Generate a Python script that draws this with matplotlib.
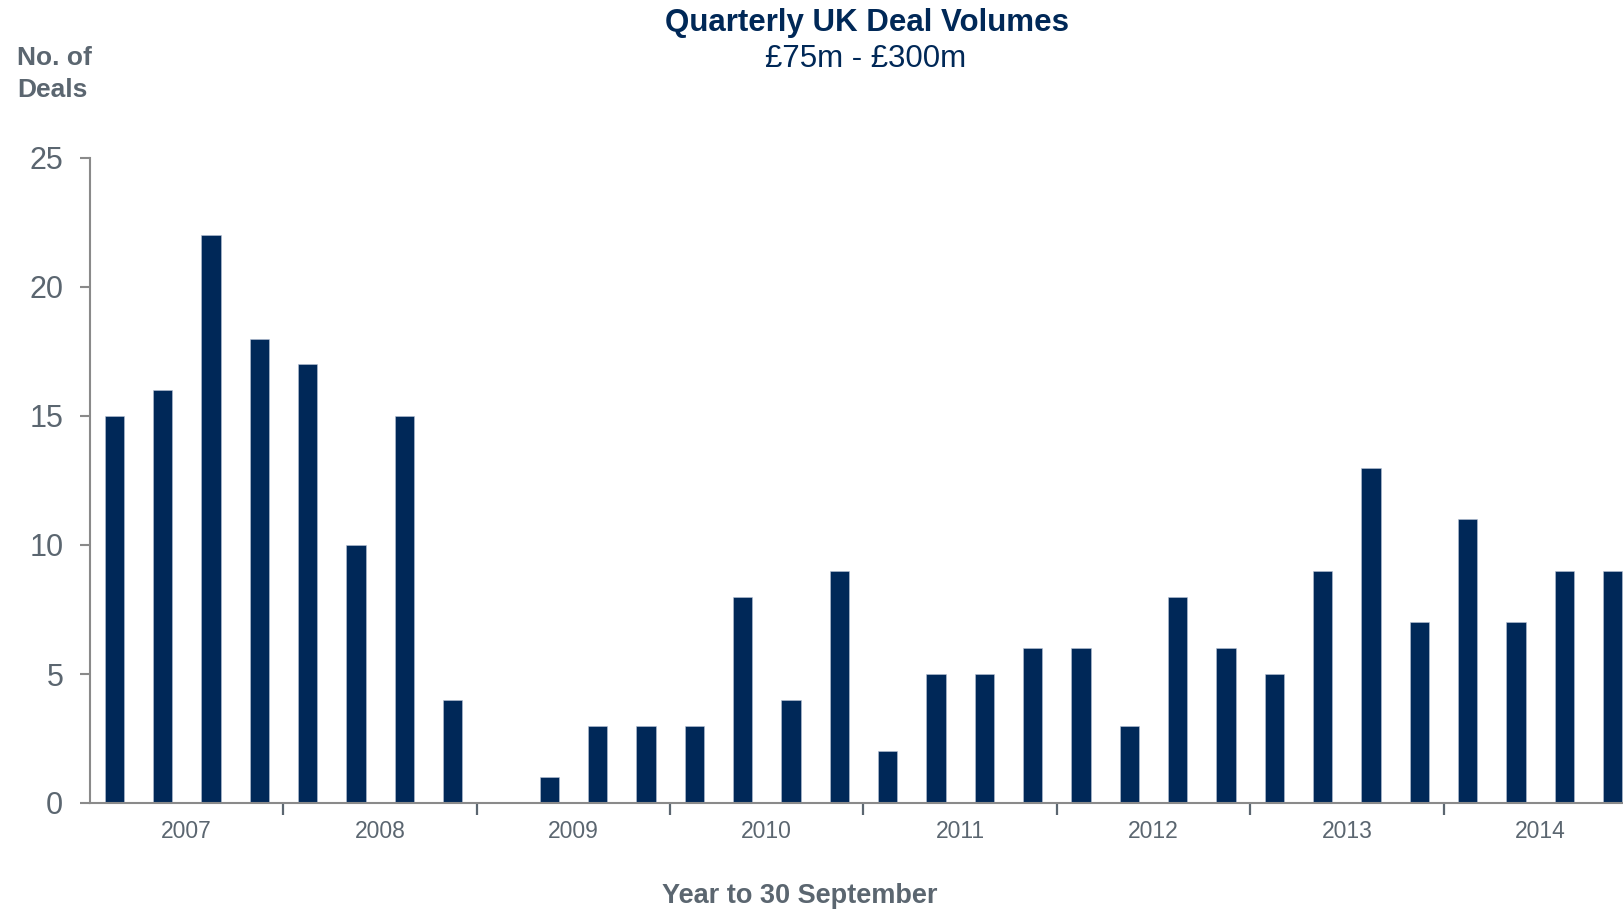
import matplotlib
matplotlib.use("Agg")
import matplotlib.pyplot as plt
from matplotlib.ticker import FixedLocator, NullFormatter, FixedFormatter

plt.rcParams['font.family'] = ['Liberation Sans', 'DejaVu Sans']

# Quarterly deal counts, four quarters per year (year to 30 September)
years = ['2007', '2008', '2009', '2010', '2011', '2012', '2013', '2014']
deals = [15, 16, 22, 18,
         17, 10, 15, 4,
         0, 1, 3, 3,
         3, 8, 4, 9,
         2, 5, 5, 6,
         6, 3, 8, 6,
         5, 9, 13, 7,
         11, 7, 9, 9]
y_ticks = [0, 5, 10, 15, 20, 25]

NAVY = '#002858'
GREY_TEXT = '#5b6670'
GREY_AXIS = '#8a8a8a'

W, H = 1624, 909
fig = plt.figure(figsize=(W / 100, H / 100), dpi=100)
fig.patch.set_facecolor('white')

left, bottom = 90 / W, 1 - 803 / H
width, height = 1547 / W, 645 / H
ax = fig.add_axes([left, bottom, width, height])

x = list(range(len(deals)))
ax.bar(x, deals, width=0.4, color=NAVY, edgecolor='#b8c2d6', linewidth=0.4, zorder=2)

ax.set_xlim(-0.5, len(deals) - 0.5)
ax.set_ylim(0, 25)

for side in ('top', 'right'):
    ax.spines[side].set_visible(False)
for side in ('left', 'bottom'):
    ax.spines[side].set_color(GREY_AXIS)
    ax.spines[side].set_linewidth(1.5)

ax.set_yticks(y_ticks)
ax.set_yticklabels([str(v) for v in y_ticks])
ax.tick_params(axis='y', direction='out', length=7.2, width=1.5, color=GREY_AXIS,
               labelsize=22, labelcolor=GREY_TEXT, pad=12)

# year boundaries as major ticks, year names centred under each group of four
n_years = len(years)
ax.xaxis.set_major_locator(FixedLocator([3.5 + 4 * k for k in range(n_years - 1)]))
ax.xaxis.set_major_formatter(NullFormatter())
ax.xaxis.set_minor_locator(FixedLocator([1.5 + 4 * k for k in range(n_years)]))
ax.xaxis.set_minor_formatter(FixedFormatter(years))
ax.tick_params(axis='x', which='major', direction='out', length=8.5, width=1.6,
               color=GREY_TEXT)
ax.tick_params(axis='x', which='minor', length=0, labelsize=16.5,
               labelcolor=GREY_TEXT, pad=12)

fig.text(866.7 / W, 1 - 31 / H, 'Quarterly UK Deal Volumes', ha='center', va='baseline',
         fontsize=22.5, fontweight='bold', color='#002857')
fig.text(866 / W, 1 - 67 / H, '£75m - £300m', ha='center', va='baseline',
         fontsize=22.5, color='#002857')

fig.text(17 / W, 1 - 65 / H, 'No. of', ha='left', va='baseline',
         fontsize=19, fontweight='bold', color=GREY_TEXT)
fig.text(17 / W, 1 - 97 / H, 'Deals', ha='left', va='baseline',
         fontsize=19, fontweight='bold', color=GREY_TEXT)

fig.text(800 / W, 1 - 903 / H, 'Year to 30 September', ha='center', va='baseline',
         fontsize=19.5, fontweight='bold', color=GREY_TEXT)

fig.savefig('out.png', dpi=100, facecolor='white')
